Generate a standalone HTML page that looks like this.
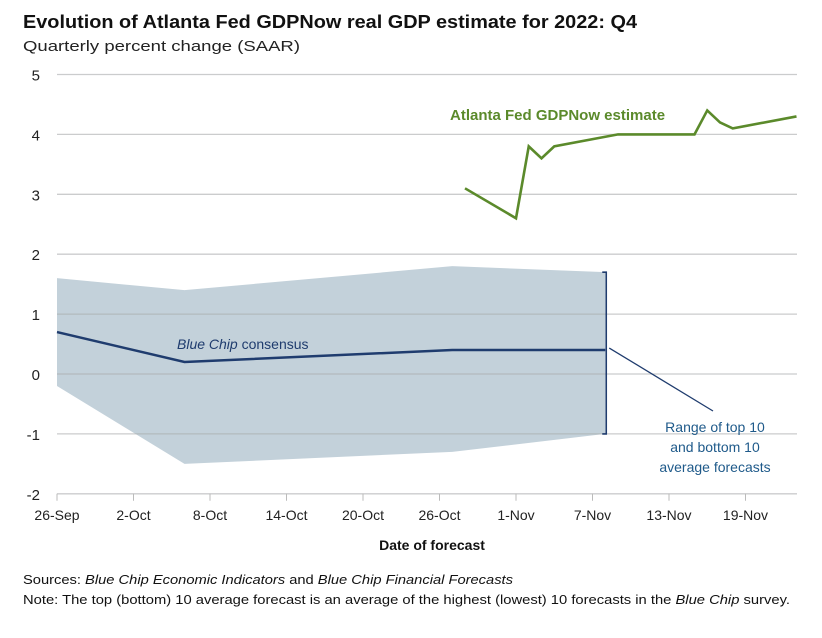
<!DOCTYPE html>
<html><head><meta charset="utf-8">
<style>
body{margin:0;background:#fff;font-family:"Liberation Sans",Arial,sans-serif;}
svg text{font-family:"Liberation Sans",Arial,sans-serif;}
</style></head>
<body>
<svg id="chart" width="822" height="633" viewBox="0 0 822 633" xmlns="http://www.w3.org/2000/svg">
<text x="23" y="28" font-size="18" font-weight="bold" fill="#111" textLength="614" lengthAdjust="spacingAndGlyphs">Evolution of Atlanta Fed GDPNow real GDP estimate for 2022: Q4</text>
<text x="23" y="51" font-size="15" fill="#222" textLength="277" lengthAdjust="spacingAndGlyphs">Quarterly percent change (SAAR)</text>
<g id="band"></g><g id="grid"></g><g id="lines"></g><g id="axes"></g>
<text x="432" y="550" font-size="14" font-weight="bold" text-anchor="middle" fill="#111">Date of forecast</text>
<text x="177" y="349" font-size="14" fill="#1f3c6e"><tspan font-style="italic">Blue Chip</tspan> consensus</text>
<text x="450" y="120" font-size="15" font-weight="bold" fill="#5b8a2b">Atlanta Fed GDPNow estimate</text>
<g font-size="14" fill="#1f5a8a" text-anchor="middle">
<text x="715" y="432">Range of top 10</text>
<text x="715" y="452">and bottom 10</text>
<text x="715" y="472">average forecasts</text>
</g>
<text x="23" y="584" font-size="13" fill="#111" textLength="490" lengthAdjust="spacingAndGlyphs">Sources: <tspan font-style="italic">Blue Chip Economic Indicators</tspan> and <tspan font-style="italic">Blue Chip Financial Forecasts</tspan></text>
<text x="23" y="604" font-size="13" fill="#111" textLength="767" lengthAdjust="spacingAndGlyphs">Note: The top (bottom) 10 average forecast is an average of the highest (lowest) 10 forecasts in the <tspan font-style="italic">Blue Chip</tspan> survey.</text>
</svg>
<script>
const yTicks=[5,4,3,2,1,0,-1,-2];
const xTickLabels=["26-Sep","2-Oct","8-Oct","14-Oct","20-Oct","26-Oct","1-Nov","7-Nov","13-Nov","19-Nov"];
const xTickDays=[0,6,12,18,24,30,36,42,48,54];
const bcDays=[0,10,31,43];
const bcUpper=[1.6,1.4,1.8,1.7];
const bcLower=[-0.2,-1.5,-1.3,-1.0];
const bcConsensus=[0.7,0.2,0.4,0.4];
const gdpDays=[32,36,37,38,39,44,50,51,52,53,58];
const gdpValues=[3.1,2.6,3.8,3.6,3.8,4.0,4.0,4.4,4.2,4.1,4.3];
const NS="http://www.w3.org/2000/svg";
const x=d=>57+d*12.75;
const y=v=>374-v*59.9;
function mk(tag,attrs,parent){const e=document.createElementNS(NS,tag);for(const k in attrs)e.setAttribute(k,attrs[k]);document.getElementById(parent).appendChild(e);return e;}
yTicks.forEach(v=>{
 const l=mk('line',{x1:57,x2:797,y1:y(v),y2:y(v),stroke:'#a8aaac','stroke-opacity':0.6,'stroke-width':1.3},'grid');
 
 
 const t=mk('text',{x:40,y:y(v)+6,'font-size':15,'text-anchor':'end',fill:'#222'},'axes');
 t.textContent=v;
 
 
});
xTickDays.forEach((d,i)=>{
 const tk=mk('line',{x1:x(d),x2:x(d),y1:y(-2),y2:y(-2)+7,stroke:'#bbb','stroke-width':1},'axes');
 
 
 const t=mk('text',{x:x(d),y:520,'font-size':14,'text-anchor':'middle',fill:'#222'},'axes');
 t.textContent=xTickLabels[i];
 
 
});
let pts=bcDays.map((d,i)=>x(d)+','+y(bcUpper[i]));
for(let i=bcDays.length-1;i>=0;i--)pts.push(x(bcDays[i])+','+y(bcLower[i]));
const band=mk('polygon',{points:pts.join(' '),fill:'#c3d1da'},'band');


const cons=mk('polyline',{points:bcDays.map((d,i)=>x(d)+','+y(bcConsensus[i])).join(' '),fill:'none',stroke:'#1f3c6e','stroke-width':2.5},'lines');


const gdp=mk('polyline',{points:gdpDays.map((d,i)=>x(d)+','+y(gdpValues[i])).join(' '),fill:'none',stroke:'#5b8a2b','stroke-width':2.6},'lines');


const last=bcDays.length-1, bx=x(bcDays[last])+1;
const br=mk('path',{d:`M${bx-4},${y(bcUpper[last])} H${bx} V${y(bcLower[last])} H${bx-4}`,fill:'none',stroke:'#1f3c6e','stroke-width':1.6},'lines');


const ld=mk('line',{x1:bx+3,y1:y(bcConsensus[last])-2,x2:713,y2:411,stroke:'#1f3c6e','stroke-width':1.3},'lines');


</script>
</body></html>
